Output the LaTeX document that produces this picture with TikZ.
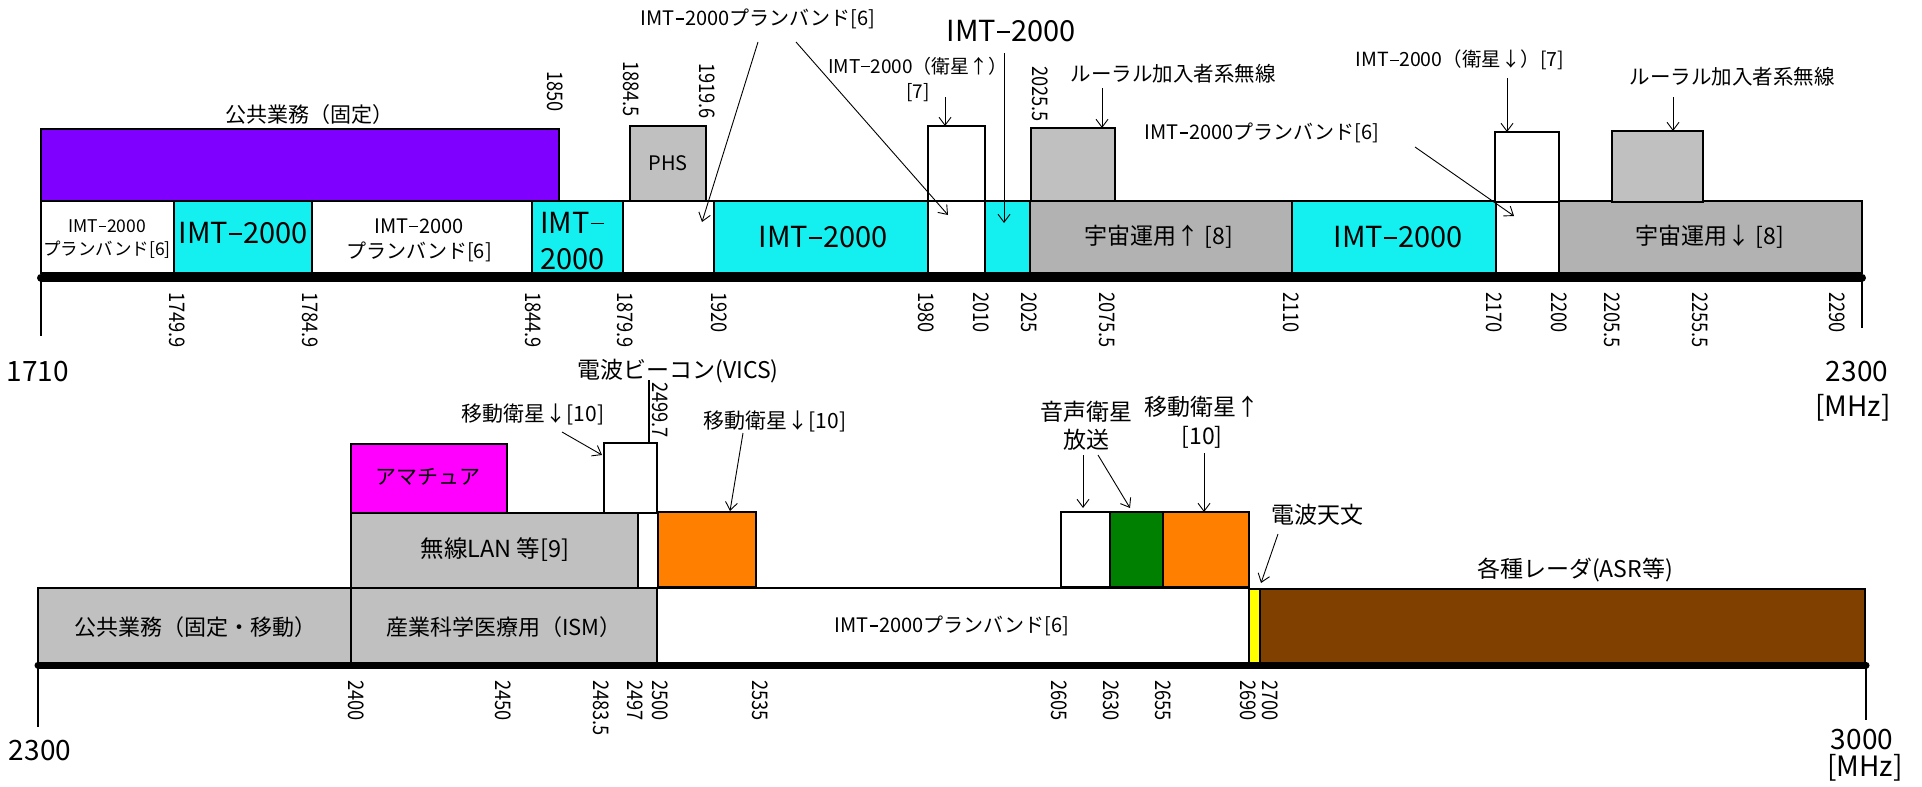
\documentclass[tikz,border=0pt]{standalone}
\usepackage{fontspec}
\setmainfont{Noto Sans CJK JP}
\usepackage{graphicx}
\usetikzlibrary{arrows.meta}
\definecolor{cpurple}{RGB}{128,0,255}
\definecolor{ccyan}{RGB}{20,240,240}
\definecolor{cgray}{RGB}{192,192,192}
\definecolor{cgrayd}{RGB}{178,178,178}
\definecolor{cmag}{RGB}{255,0,255}
\definecolor{corange}{RGB}{255,128,0}
\definecolor{cgreen}{RGB}{0,128,0}
\definecolor{cyel}{RGB}{255,255,0}
\definecolor{cbrown}{RGB}{128,64,0}
\newcommand\dsh{\kern0.04em\rule[0.3em]{0.44em}{0.06em}\kern0.04em}
\newcommand\imt{IMT\dsh 2000}
\newcommand\bx[6]{\node[box,#6,minimum width={(#4-#2)*1pt},minimum height={(#5-#3)*1pt}] (#1) at (#2,#3) {};}
\newcommand\tkd[3]{\node[tk,anchor=west] (#1) at (#2,292) {\scalebox{0.85}[1]{#3}};}
\newcommand\tkb[3]{\node[tk,anchor=west] (#1) at (#2,680) {\scalebox{0.85}[1]{#3}};}
\begin{document}
\begin{tikzpicture}[x=1pt,y=-1pt,
 box/.style={draw=black,line width=1.4pt,anchor=north west,inner sep=0pt,outer sep=0pt},
 fs/.style={font=\fontsize{#1}{#1}\selectfont},
 lbl/.style={inner sep=0pt},
 tk/.style={inner sep=0pt,rotate=-90,font=\fontsize{21.5}{21.5}\selectfont},
 arr/.style={line width=0.9pt,-{Straight Barb[length=8pt,width=12pt,line width=0.9pt]}},
 axis/.style={line width=8pt,line cap=round},
 tick/.style={line width=1.5pt},
 lead/.style={line width=1.2pt},
]
\fill[white] (0,0) rectangle (1922,787);
\useasboundingbox (0,0) rectangle (1922,787);

% ---------------- top band 1710-2300 ----------------
\bx{w1}{41}{201}{174}{273}{fill=white}
\bx{c1}{174}{201}{312}{273}{fill=ccyan}
\bx{w2}{312}{201}{532}{273}{fill=white}
\bx{c2}{532}{201}{623}{273}{fill=ccyan}
\bx{w3}{623}{201}{714}{273}{fill=white}
\bx{c3}{714}{201}{928}{273}{fill=ccyan}
\bx{w4}{928}{201}{985}{273}{fill=white}
\bx{c4}{985}{201}{1030}{273}{fill=ccyan}
\bx{g1}{1030}{201}{1292}{273}{fill=cgrayd}
\bx{c5}{1292}{201}{1496}{273}{fill=ccyan}
\bx{w5}{1496}{201}{1559}{273}{fill=white}
\bx{g2}{1559}{201}{1862}{273}{fill=cgrayd}

\bx{pub}{41}{129}{559}{201}{fill=cpurple}
\bx{phs}{630}{126}{706}{201}{fill=cgray}
\bx{satup}{928}{126}{985}{201}{fill=white}
\bx{rur1}{1031}{128}{1115}{201}{fill=cgray}
\bx{satdnT}{1495}{132}{1559}{202}{fill=white}
\bx{rur2}{1612}{131}{1703}{202}{fill=cgray}

\coordinate (a1L) at (41,277.5);
\coordinate (a1R) at (1862,277.5);
\draw[axis] (a1L) -- (a1R);
\draw[tick] (a1L) -- ++(0,58);
\draw[tick] (a1R) -- ++(0,50);

% texts in boxes
\node[lbl,align=center,font=\fontsize{17.5}{22.5}\selectfont] (tw1) at (107,239) {\imt\\プランバンド[6]};
\node[lbl,fs=29] (tc1) at (243,233) {\imt};
\node[lbl,align=center,font=\fontsize{20}{25}\selectfont] (tw2) at (419,240) {\imt\\プランバンド[6]};
\node[lbl,align=left,anchor=west,font=\fontsize{29}{36.5}\selectfont] (tc2) at (540,241) {IMT\dsh\\2000};
\node[lbl,fs=29] (tc3) at (823,237) {\imt};
\node[lbl,fs=23] (tg1) at (1159,237) {宇宙運用↑ [8]};
\node[lbl,fs=29] (tc5) at (1398,237) {\imt};
\node[lbl,fs=23] (tg2) at (1710,237) {宇宙運用↓ [8]};
\node[lbl,fs=20] (tphs) at (668,163) {PHS};
\node[lbl,fs=21] (tpub) at (309,115) {公共業務（固定）};

% labels above
\node[lbl,fs=20] (lpb1) at (758,19) {\imt プランバンド[6]};
\node[lbl,align=center,font=\fontsize{19}{25}\selectfont] (lsatup) at (918,79) {\imt（衛星↑）\\{}[7]};
\node[lbl,fs=29] (limt) at (1011,31) {\imt};
\node[lbl,fs=20.5] (lrur1) at (1173,74) {ルーラル加入者系無線};
\node[lbl,fs=20] (lpb2) at (1262,133) {\imt プランバンド[6]};
\node[lbl,fs=19.5] (lsatdn) at (1460,60) {\imt（衛星↓）[7]};
\node[lbl,fs=20.5] (lrur2) at (1732,77) {ルーラル加入者系無線};

% arrows top
\coordinate (a1s) at (758,42);   \coordinate (a1e) at (702,222);
\coordinate (a2s) at (796,42);   \coordinate (a2e) at (948,215);
\coordinate (a3s) at (945,97);
\coordinate (a4s) at (1004,53);  \coordinate (a4e) at (1004,223);
\coordinate (a5s) at (1102,88);
\coordinate (a6s) at (1415,147); \coordinate (a6e) at (1514,216);
\coordinate (a7s) at (1507,78);
\coordinate (a8s) at (1673,97);
\draw[arr] (a1s) -- (a1e);
\draw[arr] (a2s) -- (a2e);
\draw[arr] (a3s) -- (a3s |- satup.north);
\draw[arr] (a4s) -- (a4e);
\draw[arr] (a5s) -- (a5s |- rur1.north);
\draw[arr] (a6s) -- (a6e);
\draw[arr] (a7s) -- (a7s |- satdnT.north);
\draw[arr] (a8s) -- (a8s |- rur2.north);

% frequency labels top
\node[tk,anchor=east] (t1850) at (555,112) {\scalebox{0.85}[1]{1850}};
\node[tk,anchor=east] (t1884) at (631,117) {\scalebox{0.85}[1]{1884.5}};
\node[tk,anchor=east] (t1919) at (707,119) {\scalebox{0.85}[1]{1919.6}};
\node[tk,anchor=east] (t20255) at (1040,122) {\scalebox{0.85}[1]{2025.5}};
\tkd{t1749}{177}{1749.9}
\tkd{t1784}{310}{1784.9}
\tkd{t1844}{533}{1844.9}
\tkd{t1879}{625}{1879.9}
\tkd{t1920}{719}{1920}
\tkd{t1980}{926}{1980}
\tkd{t2010}{981}{2010}
\tkd{t2025}{1029}{2025}
\tkd{t2075}{1107}{2075.5}
\tkd{t2110}{1291}{2110}
\tkd{t2170}{1494}{2170}
\tkd{t2200}{1559}{2200}
\tkd{t2205}{1612}{2205.5}
\tkd{t2255}{1700}{2255.5}
\tkd{t2290}{1837}{2290}

\node[lbl,fs=28] (e1710) at (38,372) {1710};
\node[lbl,fs=28] (e2300a) at (1857,372) {2300};
\node[lbl,fs=28] (mhz1) at (1853,408) {[MHz]};

% ---------------- bottom band 2300-3000 ----------------
\bx{pubb}{38}{588}{351}{663}{fill=cgray}
\bx{ism}{351}{588}{657}{663}{fill=cgray}
\bx{pb3}{657}{588}{1249}{663}{fill=white}
\bx{yel}{1249}{589}{1260}{663}{fill=cyel}
\bx{brn}{1260}{589}{1865}{663}{fill=cbrown}
\bx{lan}{351}{513}{638}{588}{fill=cgray}
\bx{ama}{351}{444}{507}{513}{fill=cmag}
\bx{msd}{604}{443}{657}{513}{fill=white}
\bx{or1}{658}{512}{756}{587}{fill=corange}
\bx{sw}{1061}{512}{1110}{587}{fill=white}
\bx{grn}{1110}{512}{1163}{587}{fill=cgreen}
\bx{or2}{1163}{512}{1249}{587}{fill=corange}

\coordinate (a2L) at (38,665);
\coordinate (a2R) at (1866,665);
\draw[axis,line width=7pt] (a2L) -- (a2R);
\draw[tick] (a2L) -- ++(0,62);
\draw[tick] (a2R) -- ++(0,55);

\node[lbl,fs=22] (tpubb) at (195,627) {公共業務（固定・移動）};
\node[lbl,fs=22] (tism) at (504,627) {産業科学医療用（ISM）};
\node[lbl,fs=20] (tpb3) at (952,626) {\imt プランバンド[6]};
\node[lbl,fs=23.5] (tlan) at (495,550) {無線LAN 等[9]};
\node[lbl,fs=21] (tama) at (428,477) {アマチュア};

\node[lbl,fs=21] (lms1) at (533,414) {移動衛星↓[10]};
\node[lbl,fs=21] (lms2) at (775,421) {移動衛星↓[10]};
\node[lbl,fs=23] (lvics) at (678,371) {電波ビーコン(VICS)};
\node[lbl,align=center,font=\fontsize{23}{28}\selectfont] (lbss) at (1086,426) {音声衛星\\放送};
\node[lbl,align=center,font=\fontsize{23}{28.5}\selectfont] (lmsu) at (1202,422) {移動衛星↑\\{}[10]};
\node[lbl,fs=23] (lra) at (1317,515) {電波天文};
\node[lbl,fs=23] (lrad) at (1575,570) {各種レーダ(ASR等)};

\coordinate (vl) at (649,380);
\draw[lead] (vl) -- (vl |- msd.north);
\node[tk,anchor=east] (t24997) at (660,438) {\scalebox{0.85}[1]{2499.7}};

\coordinate (b1s) at (562,432);  \coordinate (b1e) at (602,455);
\coordinate (b2s) at (743,433);  \coordinate (b2e) at (730,511);
\coordinate (b3s) at (1083,455); \coordinate (b3e) at (1083,508);
\coordinate (b4s) at (1098,455); \coordinate (b4e) at (1130,508);
\coordinate (b5s) at (1204,453);
\coordinate (b6s) at (1278,534); \coordinate (b6e) at (1261,583);
\draw[arr] (b1s) -- (b1e);
\draw[arr] (b2s) -- (b2e);
\draw[arr] (b3s) -- (b3e);
\draw[arr] (b4s) -- (b4e);
\draw[arr] (b5s) -- (b5s |- or2.north);
\draw[arr] (b6s) -- (b6e);

\tkb{t2400}{356}{2400}
\tkb{t2450}{503}{2450}
\tkb{t2483}{601}{2483.5}
\tkb{t2497}{635}{2497}
\tkb{t2500}{660}{2500}
\tkb{t2535}{760}{2535}
\tkb{t2605}{1059}{2605}
\tkb{t2630}{1111}{2630}
\tkb{t2655}{1163}{2655}
\tkb{t2690}{1248}{2690}
\tkb{t2700}{1270}{2700}

\node[lbl,fs=28] (e2300b) at (40,751) {2300};
\node[lbl,fs=28] (e3000) at (1862,740) {3000};
\node[lbl,fs=28] (mhz2) at (1865,768) {[MHz]};
\end{tikzpicture}
\end{document}
